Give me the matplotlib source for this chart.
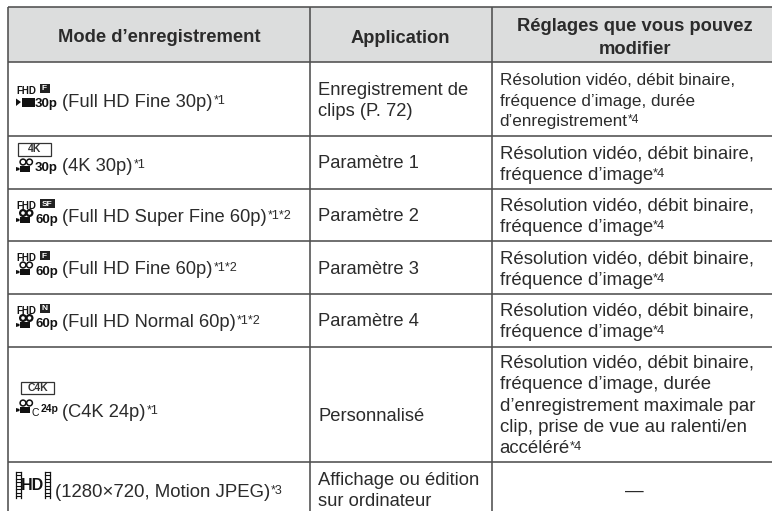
import matplotlib
matplotlib.use('Agg')
import matplotlib.pyplot as plt
from matplotlib.patches import Rectangle, Circle, Polygon

plt.rcParams['font.family'] = ['Liberation Sans', 'DejaVu Sans']

W, H = 772, 511

# grid lines, in pixels of the reference (right and bottom edges are cropped off)
col_x = [7.5, 310, 491.5, 778]
row_y = [7.5, 62, 136, 189, 241, 294, 347, 462, 520]

headers = [["Mode d’enregistrement"], ["Application"], ["Réglages que vous pouvez", "modifier"]]

badges = ["F", "4K", "SF", "F", "N", "C4K", ""]
rates = ["30p", "30p", "60p", "60p", "60p", "24p", ""]
modes = ["(Full HD Fine 30p)", "(4K 30p)", "(Full HD Super Fine 60p)", "(Full HD Fine 60p)",
         "(Full HD Normal 60p)", "(C4K 24p)", "(1280×720, Motion JPEG)"]
notes = ["*1", "*1", "*1*2", "*1*2", "*1*2", "*1", "*3"]

applications = [["Enregistrement de", "clips (P. 72)"], ["Paramètre 1"], ["Paramètre 2"], ["Paramètre 3"],
                ["Paramètre 4"], ["Personnalisé"], ["Affichage ou édition", "sur ordinateur"]]

reglages = [["Résolution vidéo, débit binaire,", "fréquence d’image, durée", "d’enregistrement"],
            ["Résolution vidéo, débit binaire,", "fréquence d’image"],
            ["Résolution vidéo, débit binaire,", "fréquence d’image"],
            ["Résolution vidéo, débit binaire,", "fréquence d’image"],
            ["Résolution vidéo, débit binaire,", "fréquence d’image"],
            ["Résolution vidéo, débit binaire,", "fréquence d’image, durée",
             "d’enregistrement maximale par", "clip, prise de vue au ralenti/en", "accéléré"],
            ["—"]]
reglage_notes = ["*4", "*4", "*4", "*4", "*4", "*4", ""]

# baseline of the mode text and centre of the application text, per row
mode_base = [107, 171, 222, 274, 327, 417, 497]
app_mid = [99, 162, 215, 268, 320, 415, 489]
regl_mid = [100, 163, 215, 268, 320, 404, 489]

TXT = '#2b2b2b'
ICON = '#111111'
LINE = '#4f4f4f'

fig = plt.figure(figsize=(W/100, H/100), dpi=100)
ax = fig.add_axes([0, 0, 1, 1])
ax.set_xlim(0, W)
ax.set_ylim(H, 0)
ax.axis('off')
rend = fig.canvas.get_renderer()


def lignes(x, mid, textes, size, spacing, note='', ha='left'):
    # une ligne de texte a la fois, la note en exposant apres la derniere
    n = len(textes)
    px = size*100/72
    for k, s in enumerate(textes):
        base = mid + (k-(n-1)/2)*spacing + 0.35*px
        t = ax.text(x, base, s, fontsize=size, color=TXT, ha=ha, va='baseline')
    if note:
        bb = t.get_window_extent(rend)
        ax.text(bb.x1+0.5, base-3, note, fontsize=size*0.7, color=TXT, va='baseline')


def camera(x, base, lourd):
    # petit pictogramme de camera
    lw = 1.6 if lourd else 1.1
    for cx in (x+7, x+13.5):
        ax.add_patch(Circle((cx, base-9), 2.9, fc='none', ec=ICON, lw=lw))
    ax.add_patch(Rectangle((x+3.5, base-5), 10, 6, fc=ICON, ec='none'))
    ax.add_patch(Polygon([(x, base-4), (x+3.5, base-3), (x+3.5, base-1), (x, base)], fc=ICON, ec='none'))


def pellicule(x, y0, y1):
    # bande de film de l'icone HD
    ax.plot([x, x], [y0, y1], color=ICON, lw=0.9)
    ax.plot([x+5, x+5], [y0, y1], color=ICON, lw=0.9)
    y = y0
    while y <= y1:
        ax.plot([x, x+5], [y, y], color=ICON, lw=0.8)
        y += 3.5


# en-tete
ax.add_patch(Rectangle((col_x[0], row_y[0]), col_x[-1]-col_x[0], row_y[1]-row_y[0], fc='#dcdddd', ec='none'))

for x in col_x:
    ax.plot([x, x], [row_y[0], row_y[-1]], color=LINE, lw=1.15, solid_capstyle='butt')
for y in row_y[:-1]:
    ax.plot([col_x[0], col_x[-1]], [y, y], color=LINE, lw=1.15, solid_capstyle='butt')

head_x = [159, 400.5, 634.5]
head_base = [[42], [43], [31, 54]]
for i, h in enumerate(headers):
    for s, b in zip(h, head_base[i]):
        ax.text(head_x[i], b, s, ha='center', va='baseline', fontsize=13.2, fontweight='bold', color=TXT)

for i in range(len(modes)):
    base = mode_base[i]
    if i == 6:
        pellicule(15.5, base-25, base+1)
        pellicule(44.5, base-25, base+1)
        ax.text(33, base-7, 'HD', fontsize=11.5, fontweight='bold', color=ICON, ha='center', va='baseline')
        x_txt = 55
        size = 13.4
    else:
        x_txt = 62.5
        size = 13.2
        if i == 0:
            ax.add_patch(Polygon([(16, base-8.5), (21, base-5), (16, base-1)], fc=ICON, ec='none'))
            ax.add_patch(Rectangle((22, base-9), 13, 9, fc=ICON, ec='none'))
        elif i == 5:
            # icone plus haute que le texte sur cette ligne
            camera(16, base-5, False)
            ax.text(32, base-1, 'C', fontsize=7.5, color=ICON, va='baseline')
        else:
            camera(16, base, i in (2, 4))
        ax.text(41 if i == 5 else 35, base-5 if i == 5 else base+0.5, rates[i], fontsize=7.5 if i == 5 else 9.5,
                fontweight='bold', color=ICON, va='baseline')
        # badge au-dessus de l'icone
        if badges[i] in ('4K', 'C4K'):
            bx = 18 if i == 1 else 21
            ax.add_patch(Rectangle((bx, base-28 if i == 1 else base-35), 33, 13 if i == 1 else 12,
                                   fc='white', ec='#333333', lw=0.9))
            ax.text(bx+16.5, (base-21.5 if i == 1 else base-29), badges[i], fontsize=7.5, fontweight='bold',
                    color='#333333', ha='center', va='center')
        else:
            ax.text(16, base-13, 'FHD', fontsize=7, fontweight='bold', color=ICON, va='baseline')
            bw = 15 if badges[i] == 'SF' else 10
            ax.add_patch(Rectangle((39.5, base-23), bw, 9.5, fc='#222222', ec='none'))
            ax.text(39.5+bw/2, base-18, badges[i], fontsize=6, fontweight='bold', color='white',
                    ha='center', va='center')

    t = ax.text(x_txt, base, modes[i], fontsize=size, color=TXT, va='baseline')
    bb = t.get_window_extent(rend)
    ax.text(bb.x1+0.5, base-3, notes[i], fontsize=9, color=TXT, va='baseline')

    lignes(318.5, app_mid[i], applications[i], 13.25, 21.5)
    if i == 6:
        lignes(634, regl_mid[i], reglages[i], 13.4, 21.3, ha='center')
    elif i == 0:
        lignes(499.5, regl_mid[i], reglages[i], 12.3, 20.5, note=reglage_notes[i])
    else:
        lignes(499.5, regl_mid[i], reglages[i], 13.4, 21.3, note=reglage_notes[i])

fig.savefig('out.png', dpi=100)
